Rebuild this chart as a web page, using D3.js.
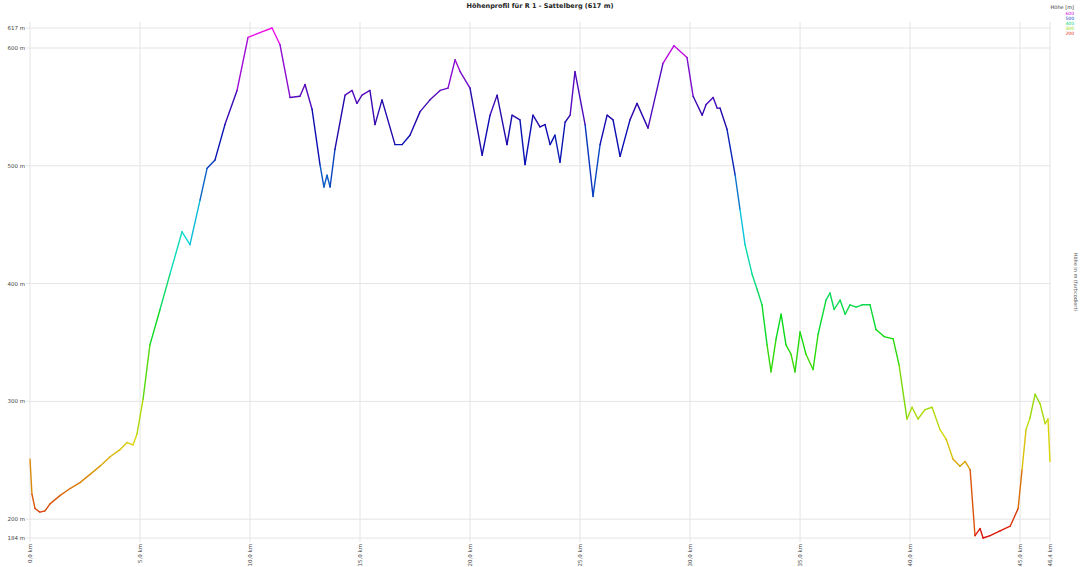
<!DOCTYPE html>
<html><head><meta charset="utf-8">
<script src="https://cdn.jsdelivr.net/npm/d3@7"></script>
<style>body{margin:0;background:#fff;}svg{display:block;font-family:"DejaVu Sans",sans-serif;}</style>
</head><body>
<svg id="c" width="1080" height="567"></svg>
<script>
const title = "Höhenprofil für R 1 - Sattelberg (617 m)";
const distanceKm = [0.00,0.09,0.23,0.45,0.68,0.91,1.36,1.82,2.27,2.73,3.18,3.64,4.09,4.41,4.68,4.86,5.14,5.45,5.91,6.36,6.91,7.27,7.73,8.05,8.41,8.86,9.41,9.91,10.45,11.00,11.36,11.82,12.27,12.50,12.82,13.18,13.36,13.50,13.64,13.86,14.32,14.64,14.86,15.09,15.45,15.68,16.00,16.59,16.91,17.27,17.73,18.18,18.64,19.00,19.32,19.55,20.00,20.55,20.91,21.23,21.68,21.91,22.27,22.50,22.86,23.18,23.41,23.64,23.86,24.09,24.32,24.55,24.77,25.23,25.59,25.91,26.23,26.50,26.82,27.27,27.59,28.09,28.77,29.27,29.86,30.14,30.55,30.73,31.05,31.23,31.36,31.68,32.05,32.27,32.50,32.82,33.05,33.27,33.50,33.68,33.91,34.14,34.36,34.59,34.77,35.00,35.27,35.59,35.82,36.18,36.36,36.55,36.82,37.05,37.27,37.55,37.82,38.18,38.45,38.82,39.23,39.50,39.86,40.09,40.36,40.68,41.00,41.36,41.64,41.95,42.27,42.50,42.73,42.95,43.18,43.32,43.64,44.09,44.55,44.91,45.09,45.27,45.45,45.68,45.91,46.14,46.27,46.36];
const elevationM = [251,221,209,206,207,213,220,226,231,238,245,253,259,265,263,272,302,348,378,408,444,433,471,498,505,535,564,609,613,617,603,558,559,569,548,501,482,492,482,514,560,564,553,560,564,535,556,518,518,526,546,556,564,566,590,580,566,509,543,560,518,543,539,501,543,533,535,518,526,503,537,543,580,535,474,518,543,539,508,539,553,532,587,602,592,559,543,552,558,549,549,531,492,463,433,408,395,382,348,325,353,374,348,340,325,359,340,327,357,386,392,378,386,374,382,380,382,382,361,355,353,331,285,295,285,293,295,276,268,251,245,249,242,186,192,184,186,190,194,209,242,276,286,306,298,281,285,249];
const yTicks = [617,600,500,400,300,200,184];
const xTicks = [0,5,10,15,20,25,30,35,40,45,46.36];
const xTickLabels = ["0,0 km","5,0 km","10,0 km","15,0 km","20,0 km","25,0 km","30,0 km","35,0 km","40,0 km","45,0 km","46,4 km"];
const legendTitle = "Höhe [m]";
const legendItems = ["600","500","400","300","200"];
const sideLabel = "Höhe in m (farbcodiert)";

const svg = d3.select("#c");
const L=30,R=1050,T=28,B=538;
const x = d3.scaleLinear().domain([0,46.36]).range([L,R]);
const y = d3.scaleLinear().domain([184,617]).range([B,T]);
const hue = d3.scaleLinear().domain([184,617]).range([0,305]);
const light = d3.scaleLinear().domain([184,450,540,617]).range([0.45,0.45,0.35,0.5]);
const col = v => d3.hsl(hue(v),0.9,light(v)).toString();

// grid
svg.append("g").selectAll("line").data(yTicks).join("line")
  .attr("x1",L-4).attr("x2",R).attr("y1",d=>y(d)).attr("y2",d=>y(d))
  .attr("stroke","#e4e4e4").attr("stroke-width",1);
svg.append("g").selectAll("line").data(xTicks).join("line")
  .attr("x1",d=>x(d)).attr("x2",d=>x(d)).attr("y1",T-6).attr("y2",B+4)
  .attr("stroke","#e4e4e4").attr("stroke-width",1);

// y labels
svg.append("g").selectAll("text").data(yTicks).join("text")
  .attr("x",L-5).attr("y",d=>y(d)).attr("dy","0.35em").attr("text-anchor","end")
  .attr("font-size",5.5).attr("fill","#444").text(d=>d+" m");

// x labels rotated
svg.append("g").selectAll("text").data(xTicks).join("text")
  .attr("transform",(d)=>`translate(${x(d)+2},${B+6}) rotate(-90)`)
  .attr("text-anchor","end").attr("font-size",5.5).attr("fill","#444")
  .text((d,i)=>xTickLabels[i]);

// title
svg.append("text").attr("x",540).attr("y",8).attr("text-anchor","middle")
  .attr("font-size",6.5).attr("font-weight","bold").attr("fill","#222").text(title);

// legend
svg.append("text").attr("x",1074).attr("y",9).attr("text-anchor","end")
  .attr("font-size",5).attr("fill","#333").text(legendTitle);
svg.append("g").selectAll("text").data(legendItems).join("text")
  .attr("x",1074).attr("y",(d,i)=>15+i*5).attr("text-anchor","end")
  .attr("font-size",4.5).attr("fill",d=>col(+d)).text(d=>d);

// side label
svg.append("text").attr("transform","translate(1074,282) rotate(90)")
  .attr("text-anchor","middle").attr("font-size",5).attr("fill","#555").text(sideLabel);

// colored line segments
const pts = distanceKm.map((d,i)=>[d,elevationM[i]]);
svg.append("g").selectAll("line").data(d3.pairs(pts)).join("line")
  .attr("x1",d=>x(d[0][0])).attr("y1",d=>y(d[0][1]))
  .attr("x2",d=>x(d[1][0])).attr("y2",d=>y(d[1][1]))
  .attr("stroke",d=>col((d[0][1]+d[1][1])/2))
  .attr("stroke-width",1.4).attr("stroke-linecap","round");
</script>
</body></html>
